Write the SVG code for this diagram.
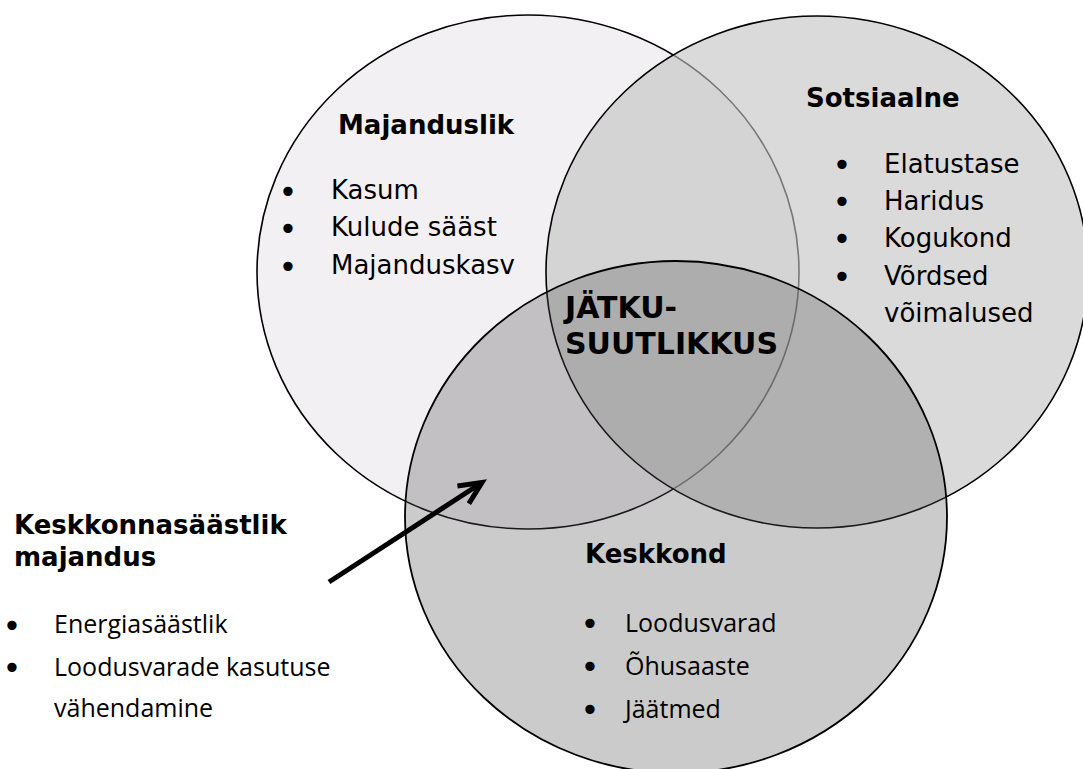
<svg xmlns="http://www.w3.org/2000/svg" width="1083" height="769" viewBox="0 0 1083 769">
<style>
.h{font-family:"DejaVu Sans",Verdana,sans-serif;font-weight:bold;font-size:26px;fill:#000}
.big{font-family:"DejaVu Sans",Verdana,sans-serif;font-weight:bold;font-size:30px;fill:#000}
.v{font-family:"DejaVu Sans",Verdana,sans-serif;font-size:26px;fill:#000}
.c{font-family:"Open Sans",Calibri,sans-serif;font-size:25px;fill:#000}
.b{font-family:"DejaVu Sans",sans-serif;font-size:32px;fill:#000;text-anchor:middle}
.circ{stroke:#000;stroke-width:1.6}
</style>
<defs>
<marker id="arrow" markerUnits="userSpaceOnUse" markerWidth="40" markerHeight="40" refX="0" refY="0" orient="auto" viewBox="-30 -20 40 40">
<path d="M-22.5,-10.5 L0,0 L-22.5,10.5" fill="none" stroke="#000" stroke-width="5"/>
</marker>
</defs>
<rect width="1083" height="769" fill="#fff"/>
<g id="majanduslik">
<ellipse class="circ" cx="528" cy="272" rx="271" ry="257" fill="#f2f0f2"/>
<text class="h" x="338" y="134">Majanduslik</text>
<text class="b" x="288" y="203">•</text>
<text class="b" x="288" y="240">•</text>
<text class="b" x="288" y="278">•</text>
<text class="v" x="331" y="199">Kasum</text>
<text class="v" x="331" y="236">Kulude sääst</text>
<text class="v" x="331" y="274">Majanduskasv</text>
</g>
<g id="sotsiaalne">
<ellipse class="circ" cx="817" cy="272" rx="271" ry="256" fill="rgb(195,195,195)" fill-opacity="0.615"/>
<text class="h" x="806" y="107">Sotsiaalne</text>
<text class="b" x="842" y="176">•</text>
<text class="b" x="842" y="213">•</text>
<text class="b" x="842" y="250">•</text>
<text class="b" x="842" y="288">•</text>
<text class="v" x="884" y="173">Elatustase</text>
<text class="v" x="884" y="210">Haridus</text>
<text class="v" x="884" y="247">Kogukond</text>
<text class="v" x="884" y="285">Võrdsed</text>
<text class="v" x="884" y="322">võimalused</text>
</g>
<g id="keskkond">
<ellipse cx="676" cy="517" rx="271" ry="256" fill="rgb(82,82,82)" fill-opacity="0.3" stroke="#000" stroke-width="1.8"/>
<text class="h" x="585" y="563">Keskkond</text>
<text class="b" x="590" y="635">•</text>
<text class="b" x="590" y="678">•</text>
<text class="b" x="590" y="721">•</text>
<text class="c" x="625" y="632">Loodusvarad</text>
<text class="c" x="625" y="675">Õhusaaste</text>
<text class="c" x="625" y="718">Jäätmed</text>
</g>
<g id="jatkusuutlikkus">
<text class="big" x="565" y="318">JÄTKU-</text>
<text class="big" x="565" y="354">SUUTLIKKUS</text>
</g>
<g id="keskkonnasaastlik">
<text class="h" x="14" y="534">Keskkonnasäästlik</text>
<text class="h" x="14" y="566">majandus</text>
<text class="b" x="12" y="637">•</text>
<text class="b" x="12" y="679">•</text>
<text class="c" x="54" y="633">Energiasäästlik</text>
<text class="c" x="54" y="676">Loodusvarade kasutuse</text>
<text class="c" x="54" y="717">vähendamine</text>
</g>
<g id="connectors">
<line x1="329" y1="582" x2="482" y2="482.5" stroke="#000" stroke-width="5" marker-end="url(#arrow)"/>
</g>
</svg>
